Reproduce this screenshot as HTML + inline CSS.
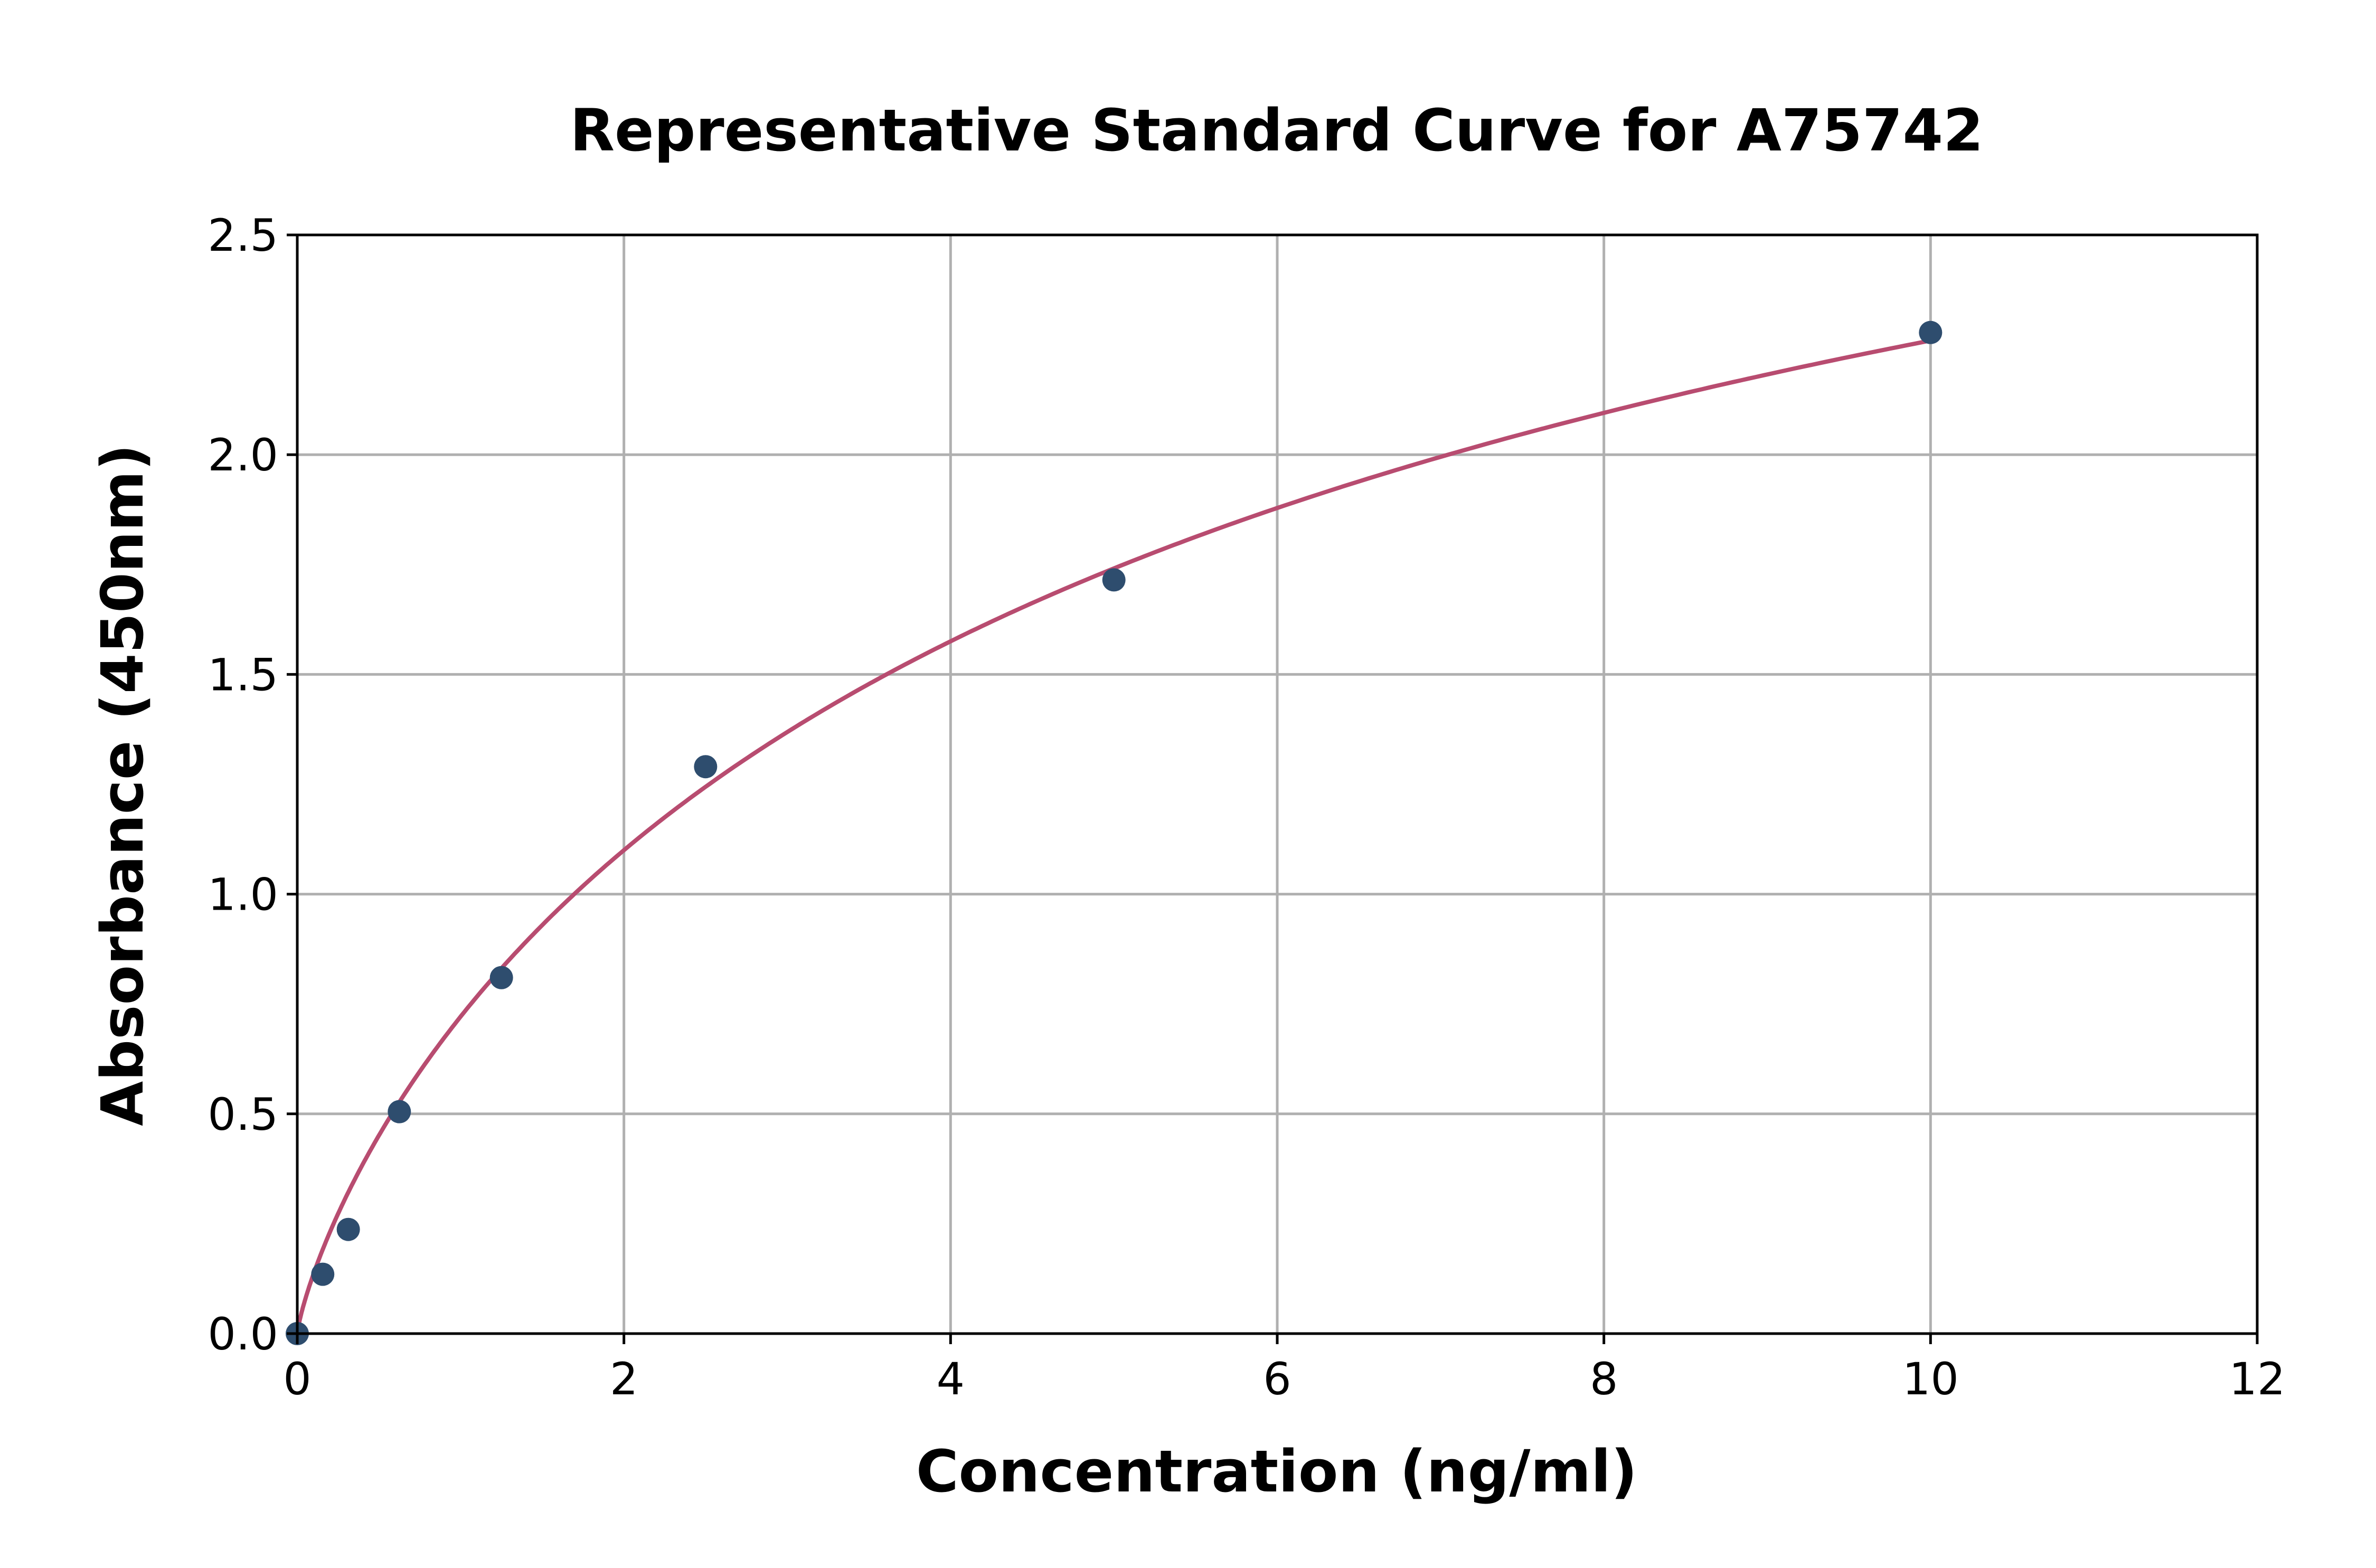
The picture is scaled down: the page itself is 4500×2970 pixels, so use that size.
<!DOCTYPE html>
<html><head><meta charset="utf-8"><style>body{margin:0;background:#fff}svg{display:block}</style></head>
<body>
<svg id="s" width="4500" height="2970" xmlns="http://www.w3.org/2000/svg" font-family="DejaVu Sans, Liberation Sans, sans-serif">
<rect width="4500" height="2970" fill="#fff"/>
<g id="grid" stroke="#b0b0b0" stroke-width="5"></g>
<path id="curve" fill="none" stroke="#b84c70" stroke-width="8"/>
<g id="pts" fill="#2e4d6e"></g>
<rect x="563" y="445" width="3712" height="2081" fill="none" stroke="#000" stroke-width="5"/>
<g id="ticks" stroke="#000" stroke-width="5"></g>
<g id="lbl" font-size="84" fill="#000"></g>
<text x="2418" y="285" font-size="110" font-weight="bold" text-anchor="middle">Representative Standard Curve for A75742</text>
<text x="2418" y="2825" font-size="110" font-weight="bold" text-anchor="middle">Concentration (ng/ml)</text>
<text transform="translate(270,1487) rotate(-90)" font-size="110" font-weight="bold" text-anchor="middle">Absorbance (450nm)</text>
</svg>
<script>
var L=563,R=4275,T=445,B=2526,ns="http://www.w3.org/2000/svg";
function X(x){return L+x*(R-L)/12}function Y(y){return B-y*(B-T)/2.5}
function el(p,t,a,txt){var e=document.createElementNS(ns,t);for(var k in a)e.setAttribute(k,a[k]);if(txt!=null)e.textContent=txt;document.getElementById(p).appendChild(e);}
for(var i=0;i<=12;i+=2){var x=X(i);if(i>0&&i<12)el("grid","line",{x1:x,x2:x,y1:T,y2:B});el("ticks","line",{x1:x,x2:x,y1:B,y2:B+20});el("lbl","text",{x:x,y:B+115,"text-anchor":"middle"},String(i));}
for(var j=0;j<=5;j++){var v=j*0.5,y=Y(v);if(j>0&&j<5)el("grid","line",{x1:L,x2:R,y1:y,y2:y});el("ticks","line",{x1:L-20,x2:L,y1:y,y2:y});el("lbl","text",{x:L-36,y:y+30,"text-anchor":"end"},v.toFixed(1));}
var d="";for(var k=0;k<=400;k++){var x=10*Math.pow(k/400,2);var p=Math.pow(x,0.8);var yv=3.777*p/(4.237+p);d+=(k?"L":"M")+X(x).toFixed(1)+","+Y(yv).toFixed(1);}
document.getElementById("curve").setAttribute("d",d);
[[0,0],[0.156,0.135],[0.3125,0.237],[0.625,0.505],[1.25,0.81],[2.5,1.29],[5,1.715],[10,2.278]].forEach(function(q){el("pts","circle",{cx:X(q[0]),cy:Y(q[1]),r:22});});
</script>
</body></html>
